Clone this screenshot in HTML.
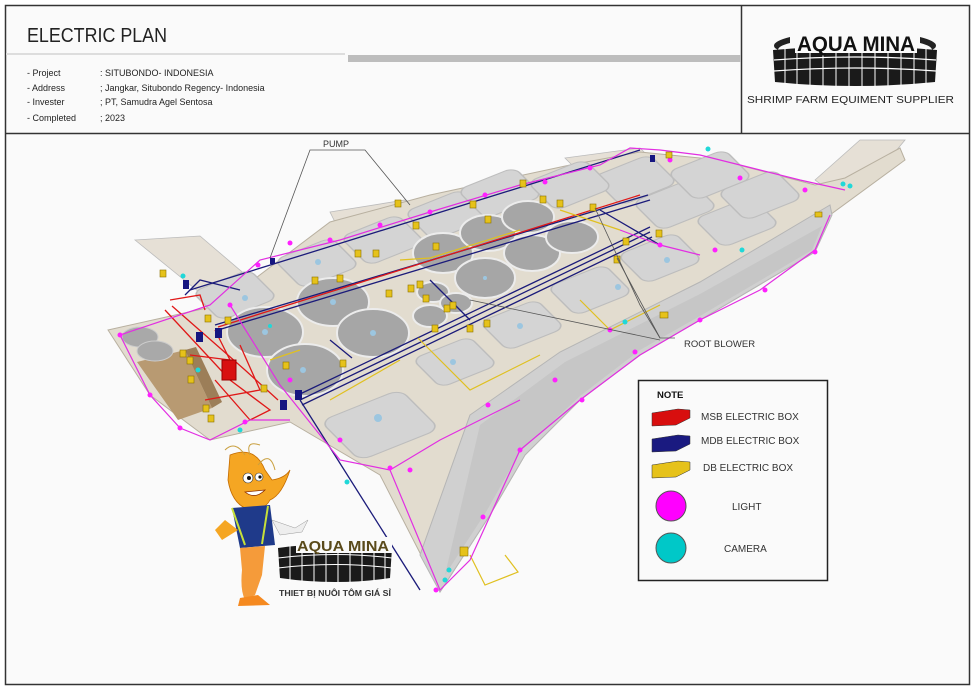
<!DOCTYPE html>
<html><head><meta charset="utf-8"><style>
html,body{margin:0;padding:0;background:#fff;}
body{width:975px;height:689px;position:relative;overflow:hidden;font-family:"Liberation Sans",sans-serif;}
svg{position:absolute;left:0;top:0;}
</style></head><body>
<svg width="975" height="689" viewBox="0 0 975 689" font-family="Liberation Sans, sans-serif">
<rect x="0" y="0" width="975" height="689" fill="#fff"/>
<rect x="5.5" y="5.5" width="964" height="679" fill="#fafafa" stroke="#333" stroke-width="1.5"/>
<line x1="5" y1="133.5" x2="970" y2="133.5" stroke="#333" stroke-width="1.5"/>
<line x1="741.5" y1="5" x2="741.5" y2="133" stroke="#333" stroke-width="1.5"/>
<line x1="6" y1="54" x2="345" y2="54" stroke="#ddd" stroke-width="2"/>
<rect x="348" y="55" width="393" height="7" fill="#bdbdbd"/>
<text x="27" y="42" font-size="20" fill="#222" textLength="140" lengthAdjust="spacingAndGlyphs">ELECTRIC PLAN</text>
<g font-size="9" fill="#222">
<text x="27" y="76">- Project</text><text x="100" y="76">: SITUBONDO- INDONESIA</text>
<text x="27" y="91">- Address</text><text x="100" y="91">; Jangkar, Situbondo Regency- Indonesia</text>
<text x="27" y="105">- Invester</text><text x="100" y="105">; PT, Samudra Agel Sentosa</text>
<text x="27" y="121">- Completed</text><text x="100" y="121">; 2023</text>
</g>
<!-- top logo -->
<g>
<path d="M775 48 Q770 42 790 37 L790 43 Q778 46 778 50 Z M935 48 Q940 42 920 37 L920 43 Q932 46 932 50 Z" fill="#222"/>
<path d="M773 50 Q855 43 937 50 L935 82 Q855 90 775 82 Z" fill="#1a1a1a"/>
<path d="M774 60 Q855 54 936 60 M774 71 Q855 65 936 71" stroke="#fff" stroke-width="1.3" fill="none"/>
<g stroke="#fff" stroke-width="1">
<line x1="785" y1="49" x2="785" y2="84"/><line x1="797" y1="48" x2="797" y2="85"/><line x1="810" y1="47" x2="810" y2="86"/><line x1="823" y1="47" x2="823" y2="86"/><line x1="836" y1="46" x2="836" y2="87"/><line x1="849" y1="46" x2="849" y2="87"/><line x1="862" y1="46" x2="862" y2="87"/><line x1="875" y1="46" x2="875" y2="87"/><line x1="888" y1="47" x2="888" y2="86"/><line x1="901" y1="47" x2="901" y2="86"/><line x1="914" y1="48" x2="914" y2="85"/><line x1="926" y1="49" x2="926" y2="84"/>
</g>
<rect x="795" y="33" width="122" height="20" fill="#fafafa"/>
<text x="797" y="51" font-size="21" font-weight="bold" fill="#111" textLength="118" lengthAdjust="spacingAndGlyphs">AQUA MINA</text>
<text x="747" y="103" font-size="10" fill="#222" textLength="207" lengthAdjust="spacingAndGlyphs">SHRIMP FARM EQUIMENT SUPPLIER</text>
</g>

<!-- MAP -->
<g fill="#e6e0d6" stroke="#bbb" stroke-width="0.8">
<polygon points="135,240 200,236 275,300 215,305"/>
<polygon points="330,212 405,200 410,210 335,222"/>
<polygon points="565,158 640,148 650,158 575,168"/>
<polygon points="815,180 860,140 905,140 880,170 835,195"/>
</g>
<polygon points="108,330 220,305 330,222 430,195 570,165 640,152 720,160 815,185 845,178 900,148 905,160 830,215 815,252 700,320 640,355 580,400 525,455 490,515 440,592 380,475 290,422 210,440 150,395" fill="#e2dccf" stroke="#b8b0a0" stroke-width="1"/>
<polygon points="137,362 185,350 212,408 178,420" fill="#b89a72"/>
<polygon points="185,350 212,408 222,402 196,347" fill="#9c7e58"/>
<ellipse cx="140" cy="337" rx="18" ry="10" fill="#a9a9a9" stroke="#ccc"/>
<ellipse cx="155" cy="351" rx="18" ry="10" fill="#a9a9a9" stroke="#ccc"/>
<!-- lower-right gray walkway -->
<polygon points="470,415 560,352 700,282 830,205 832,215 815,252 700,320 640,355 580,400 525,455 490,515 440,592 420,555" fill="#d0d0d0" stroke="#b5b5b5"/>
<polygon points="480,425 565,362 700,294 822,226 812,250 700,316 640,350 580,396 520,452 486,512 445,575" fill="#c6c6c6"/>
<!-- ponds -->
<g fill="#d4d4d4" stroke="#bdbdbd" stroke-width="1.5">
<rect x="-30" y="-26" width="60" height="52" rx="10" transform="matrix(0.95,-0.38,0.55,0.55,235,295)"/>
<rect x="-30" y="-26" width="60" height="52" rx="10" transform="matrix(0.95,-0.38,0.55,0.55,317,263)"/>
<rect x="-30" y="-26" width="60" height="52" rx="10" transform="matrix(0.95,-0.38,0.55,0.55,383,240)"/>
<rect x="-30" y="-26" width="60" height="52" rx="10" transform="matrix(0.95,-0.38,0.55,0.55,447,215)"/>
<rect x="-30" y="-26" width="60" height="52" rx="10" transform="matrix(0.95,-0.38,0.55,0.55,500,193)"/>
<rect x="-30" y="-26" width="60" height="52" rx="10" transform="matrix(0.95,-0.38,0.55,0.55,455,362)"/>
<rect x="-30" y="-26" width="60" height="52" rx="10" transform="matrix(0.95,-0.38,0.55,0.55,522,325)"/>
<rect x="-30" y="-26" width="60" height="52" rx="10" transform="matrix(0.95,-0.38,0.55,0.55,590,290)"/>
<rect x="-30" y="-26" width="60" height="52" rx="10" transform="matrix(0.95,-0.38,0.55,0.55,660,258)"/>
<rect x="-30" y="-26" width="60" height="52" rx="10" transform="matrix(0.95,-0.38,0.55,0.55,737,222)"/>
<rect x="-30" y="-26" width="60" height="52" rx="10" transform="matrix(0.95,-0.38,0.55,0.55,675,205)"/>
<rect x="-30" y="-26" width="60" height="52" rx="10" transform="matrix(0.95,-0.38,0.55,0.55,635,180)"/>
<rect x="-30" y="-26" width="60" height="52" rx="10" transform="matrix(0.95,-0.38,0.55,0.55,710,175)"/>
<rect x="-30" y="-26" width="60" height="52" rx="10" transform="matrix(0.95,-0.38,0.55,0.55,760,195)"/>
<rect x="-30" y="-26" width="60" height="52" rx="10" transform="matrix(0.95,-0.38,0.55,0.55,570,185)"/>
<rect x="-42" y="-36" width="84" height="72" rx="12" transform="matrix(0.95,-0.38,0.55,0.55,380,425)"/>
</g>
<g fill="#a6a6a6" stroke="#ececec" stroke-width="2">
<ellipse cx="265" cy="332" rx="38" ry="25"/>
<ellipse cx="333" cy="302" rx="36" ry="24"/>
<ellipse cx="373" cy="333" rx="36" ry="24"/>
<ellipse cx="305" cy="370" rx="38" ry="26"/>
<ellipse cx="443" cy="253" rx="30" ry="20"/>
<ellipse cx="488" cy="233" rx="28" ry="18"/>
<ellipse cx="528" cy="217" rx="26" ry="16"/>
<ellipse cx="485" cy="278" rx="30" ry="20"/>
<ellipse cx="532" cy="253" rx="28" ry="18"/>
<ellipse cx="572" cy="237" rx="26" ry="16"/>
<ellipse cx="433" cy="292" rx="16" ry="10"/>
<ellipse cx="430" cy="316" rx="17" ry="11"/>
<ellipse cx="456" cy="303" rx="16" ry="10"/>
</g>
<g fill="#9cc6e0"><circle cx="245" cy="298" r="3"/><circle cx="318" cy="262" r="3"/><circle cx="265" cy="332" r="3"/><circle cx="333" cy="302" r="3"/><circle cx="373" cy="333" r="3"/><circle cx="303" cy="370" r="3"/><circle cx="378" cy="418" r="4"/><circle cx="453" cy="362" r="3"/><circle cx="520" cy="326" r="3"/><circle cx="618" cy="287" r="3"/><circle cx="667" cy="260" r="3"/><circle cx="485" cy="278" r="2"/></g>

<g stroke="#1b1b7a" stroke-width="1.3" fill="none">
<path d="M215 325 L648 195"/><path d="M218 330 L650 200"/><path d="M300 400 L650 232"/><path d="M302 405 L652 237"/><path d="M298 395 L650 227"/>
<path d="M190 290 L560 175 L640 150"/>
<path d="M300 400 L420 590"/>
<path d="M352 358 L330 340"/>
<path d="M430 280 L470 320"/>
<path d="M600 210 L660 245"/>
<path d="M240 290 L200 280 L185 295"/>
</g>
<g stroke="#e01818" stroke-width="1.3" fill="none">
<path d="M218 327 L640 195"/>
<path d="M165 310 L230 380 L270 410 L250 420 L215 380"/>
<path d="M172 306 L245 370 L278 400"/>
<path d="M190 355 L230 360 L215 330"/>
<path d="M205 400 L260 390 L240 345"/>
<path d="M170 300 L200 295 L205 310"/>
</g>
<g stroke="#e0c020" stroke-width="1.2" fill="none">
<path d="M418 338 L470 390 L540 355"/><path d="M580 300 L610 330 L660 305"/>
<path d="M400 260 L430 258 L520 230"/><path d="M560 210 L620 230"/>
<path d="M330 400 L400 360"/><path d="M270 360 L300 350"/>
<path d="M470 555 L485 585 L518 572 L505 555"/>
</g>
<g stroke="#e22ee2" stroke-width="1.2" fill="none">
<polyline points="120,335 210,305 260,260 340,240 430,212 520,185 560,175 600,165 630,148 660,150 700,155 760,170 800,180 845,190"/>
<polyline points="120,335 150,395 180,428 210,440 250,420 290,420"/>
<polyline points="230,305 280,385 340,460 390,470 440,590 470,560 520,450 580,400 640,355 700,320 760,290 815,250 830,215"/>
<polyline points="390,470 440,440 520,400"/>
<polyline points="620,230 660,245 700,255"/>
</g>
<g fill="#ff20ff">
<circle cx="120" cy="335" r="2.5"/><circle cx="150" cy="395" r="2.5"/><circle cx="180" cy="428" r="2.5"/><circle cx="245" cy="422" r="2.5"/><circle cx="230" cy="305" r="2.5"/><circle cx="258" cy="265" r="2.5"/><circle cx="290" cy="243" r="2.5"/><circle cx="330" cy="240" r="2.5"/><circle cx="380" cy="225" r="2.5"/><circle cx="430" cy="212" r="2.5"/><circle cx="485" cy="195" r="2.5"/><circle cx="545" cy="182" r="2.5"/><circle cx="590" cy="168" r="2.5"/><circle cx="670" cy="160" r="2.5"/><circle cx="740" cy="178" r="2.5"/><circle cx="805" cy="190" r="2.5"/>
<circle cx="290" cy="380" r="2.5"/><circle cx="340" cy="440" r="2.5"/><circle cx="390" cy="468" r="2.5"/><circle cx="410" cy="470" r="2.5"/><circle cx="436" cy="590" r="2.5"/><circle cx="483" cy="517" r="2.5"/><circle cx="520" cy="450" r="2.5"/><circle cx="582" cy="400" r="2.5"/><circle cx="635" cy="352" r="2.5"/><circle cx="700" cy="320" r="2.5"/><circle cx="765" cy="290" r="2.5"/><circle cx="815" cy="252" r="2.5"/>
<circle cx="488" cy="405" r="2.5"/><circle cx="555" cy="380" r="2.5"/><circle cx="610" cy="330" r="2.5"/><circle cx="660" cy="245" r="2.5"/><circle cx="715" cy="250" r="2.5"/>
</g>
<g fill="#20d8d8"><circle cx="183" cy="276" r="2.5"/><circle cx="198" cy="370" r="2.5"/><circle cx="240" cy="430" r="2.5"/><circle cx="270" cy="326" r="2"/><circle cx="347" cy="482" r="2.5"/><circle cx="449" cy="570" r="2.5"/><circle cx="445" cy="580" r="2.5"/><circle cx="625" cy="322" r="2.5"/><circle cx="742" cy="250" r="2.5"/><circle cx="843" cy="184" r="2.5"/><circle cx="850" cy="186" r="2.5"/><circle cx="708" cy="149" r="2.5"/></g>
<rect x="222" y="360" width="14" height="20" fill="#d81010" stroke="#900"/>
<g fill="#161680"><rect x="196" y="332" width="7" height="10"/><rect x="215" y="328" width="7" height="10"/><rect x="295" y="390" width="7" height="10"/><rect x="280" y="400" width="7" height="10"/><rect x="183" y="280" width="6" height="9"/><rect x="650" y="155" width="5" height="7"/><rect x="270" y="258" width="5" height="6"/></g>
<g fill="#e6c21a" stroke="#8a7000" stroke-width="0.6">
<rect x="160" y="270" width="6" height="7"/><rect x="205" y="315" width="6" height="7"/><rect x="225" y="317" width="6" height="7"/><rect x="180" y="350" width="6" height="7"/><rect x="187" y="357" width="6" height="7"/><rect x="188" y="376" width="6" height="7"/><rect x="203" y="405" width="6" height="7"/><rect x="208" y="415" width="6" height="7"/>
<rect x="395" y="200" width="6" height="7"/><rect x="355" y="250" width="6" height="7"/><rect x="373" y="250" width="6" height="7"/><rect x="312" y="277" width="6" height="7"/><rect x="337" y="275" width="6" height="7"/><rect x="413" y="222" width="6" height="7"/><rect x="433" y="243" width="6" height="7"/><rect x="470" y="201" width="6" height="7"/><rect x="485" y="216" width="6" height="7"/><rect x="520" y="180" width="6" height="7"/><rect x="540" y="196" width="6" height="7"/><rect x="590" y="204" width="6" height="7"/><rect x="623" y="238" width="6" height="7"/><rect x="614" y="256" width="6" height="7"/><rect x="408" y="285" width="6" height="7"/><rect x="417" y="281" width="6" height="7"/><rect x="423" y="295" width="6" height="7"/><rect x="444" y="305" width="6" height="7"/><rect x="450" y="302" width="6" height="7"/><rect x="484" y="320" width="6" height="7"/><rect x="467" y="325" width="6" height="7"/><rect x="432" y="325" width="6" height="7"/><rect x="386" y="290" width="6" height="7"/><rect x="340" y="360" width="6" height="7"/><rect x="283" y="362" width="6" height="7"/><rect x="261" y="385" width="6" height="7"/><rect x="656" y="230" width="6" height="7"/><rect x="660" y="312" width="8" height="6"/><rect x="815" y="212" width="7" height="5"/><rect x="460" y="547" width="8" height="9"/><rect x="557" y="200" width="6" height="7"/><rect x="666" y="152" width="6" height="6"/></g>
<g stroke="#555" stroke-width="0.8" fill="none">
<polyline points="270,258 310,150 365,150 410,205"/>
<polyline points="595,208 640,305 660,338 675,338"/>
<polyline points="617,258 660,338"/>
<polyline points="470,300 660,340"/>
</g>
<text x="323" y="147" font-size="9" fill="#333">PUMP</text>
<text x="684" y="347" font-size="9.5" fill="#333">ROOT BLOWER</text>

<rect x="638.5" y="380.5" width="189" height="200" fill="#fafafa" stroke="#222" stroke-width="1.5"/>
<text x="657" y="398" font-size="9.5" font-weight="bold" fill="#111">NOTE</text>
<g stroke="#333" stroke-width="0.5">
<polygon points="652,413 678,409 690,410 690,418 676,425 652,426" fill="#d80e0e"/>
<polygon points="652,439 678,435 690,436 690,444 676,451 652,452" fill="#1a1a80"/>
<polygon points="652,465 678,461 690,462 690,470 676,477 652,478" fill="#e6c21a"/>
</g>
<g font-size="10" fill="#333">
<text x="701" y="420">MSB ELECTRIC BOX</text>
<text x="701" y="444">MDB ELECTRIC BOX</text>
<text x="703" y="471">DB ELECTRIC BOX</text>
<text x="732" y="510">LIGHT</text>
<text x="724" y="552">CAMERA</text>
</g>
<circle cx="671" cy="506" r="15" fill="#ff00ff" stroke="#555"/>
<circle cx="671" cy="548" r="15" fill="#00c8c8" stroke="#555"/>

<g>
<path d="M230 455 Q255 445 265 470 L272 480 Q285 478 290 470 Q282 495 270 500 Q265 510 250 510 Q232 505 228 480 Z" fill="#f5a623" stroke="#c46c00" stroke-width="0.8"/>
<circle cx="248" cy="478" r="5" fill="#fff" stroke="#333" stroke-width="0.6"/><circle cx="249" cy="478" r="2" fill="#111"/>
<circle cx="259" cy="477" r="4" fill="#fff" stroke="#333" stroke-width="0.6"/><circle cx="260" cy="477" r="1.6" fill="#111"/>
<path d="M245 492 Q255 500 265 490 Z" fill="#fff" stroke="#8a2d00" stroke-width="0.8"/>
<path d="M245 455 Q235 440 225 450 M250 455 Q245 440 260 445 M258 465 Q270 450 275 470" stroke="#c9a040" fill="none" stroke-width="1"/>
<path d="M232 508 L270 505 L275 545 L240 548 Z" fill="#1f3a8a"/>
<path d="M232 508 L245 545 M268 506 L262 544" stroke="#c6e03a" stroke-width="2"/>
<path d="M225 520 L215 530 L222 540 L238 530 Z" fill="#f5a623"/>
<path d="M272 520 L295 528 L308 520 L302 532 L280 535 Z" fill="#eee" stroke="#999" stroke-width="0.5"/>
<path d="M240 548 L265 546 L262 575 L255 595 L245 600 Q240 590 242 570 Z" fill="#f59b3a"/>
<path d="M240 598 L258 595 L270 605 L238 606 Z" fill="#f5891f"/>
</g>
<g>
<path d="M278 548 Q335 540 392 548 L390 578 Q335 586 280 578 Z" fill="#1a1a1a"/>
<path d="M278 558 Q335 551 392 558 M278 568 Q335 561 392 568" stroke="#fff" stroke-width="1" fill="none"/>
<g stroke="#fff" stroke-width="1"><line x1="290" y1="545" x2="290" y2="582"/><line x1="302" y1="545" x2="302" y2="582"/><line x1="314" y1="544" x2="314" y2="583"/><line x1="326" y1="544" x2="326" y2="583"/><line x1="338" y1="544" x2="338" y2="583"/><line x1="350" y1="544" x2="350" y2="583"/><line x1="362" y1="544" x2="362" y2="583"/><line x1="374" y1="545" x2="374" y2="582"/><line x1="385" y1="545" x2="385" y2="582"/></g>
<rect x="296" y="537" width="96" height="16" fill="#fafafa"/>
<text x="297" y="551" font-size="15" font-weight="bold" fill="#5a4a1a" textLength="92" lengthAdjust="spacingAndGlyphs">AQUA MINA</text>
<text x="279" y="596" font-size="8" font-weight="bold" fill="#333" textLength="112" lengthAdjust="spacingAndGlyphs">THIET BỊ NUÔI TÔM GIÁ SỈ</text>
</g>
</svg>
</body></html>
